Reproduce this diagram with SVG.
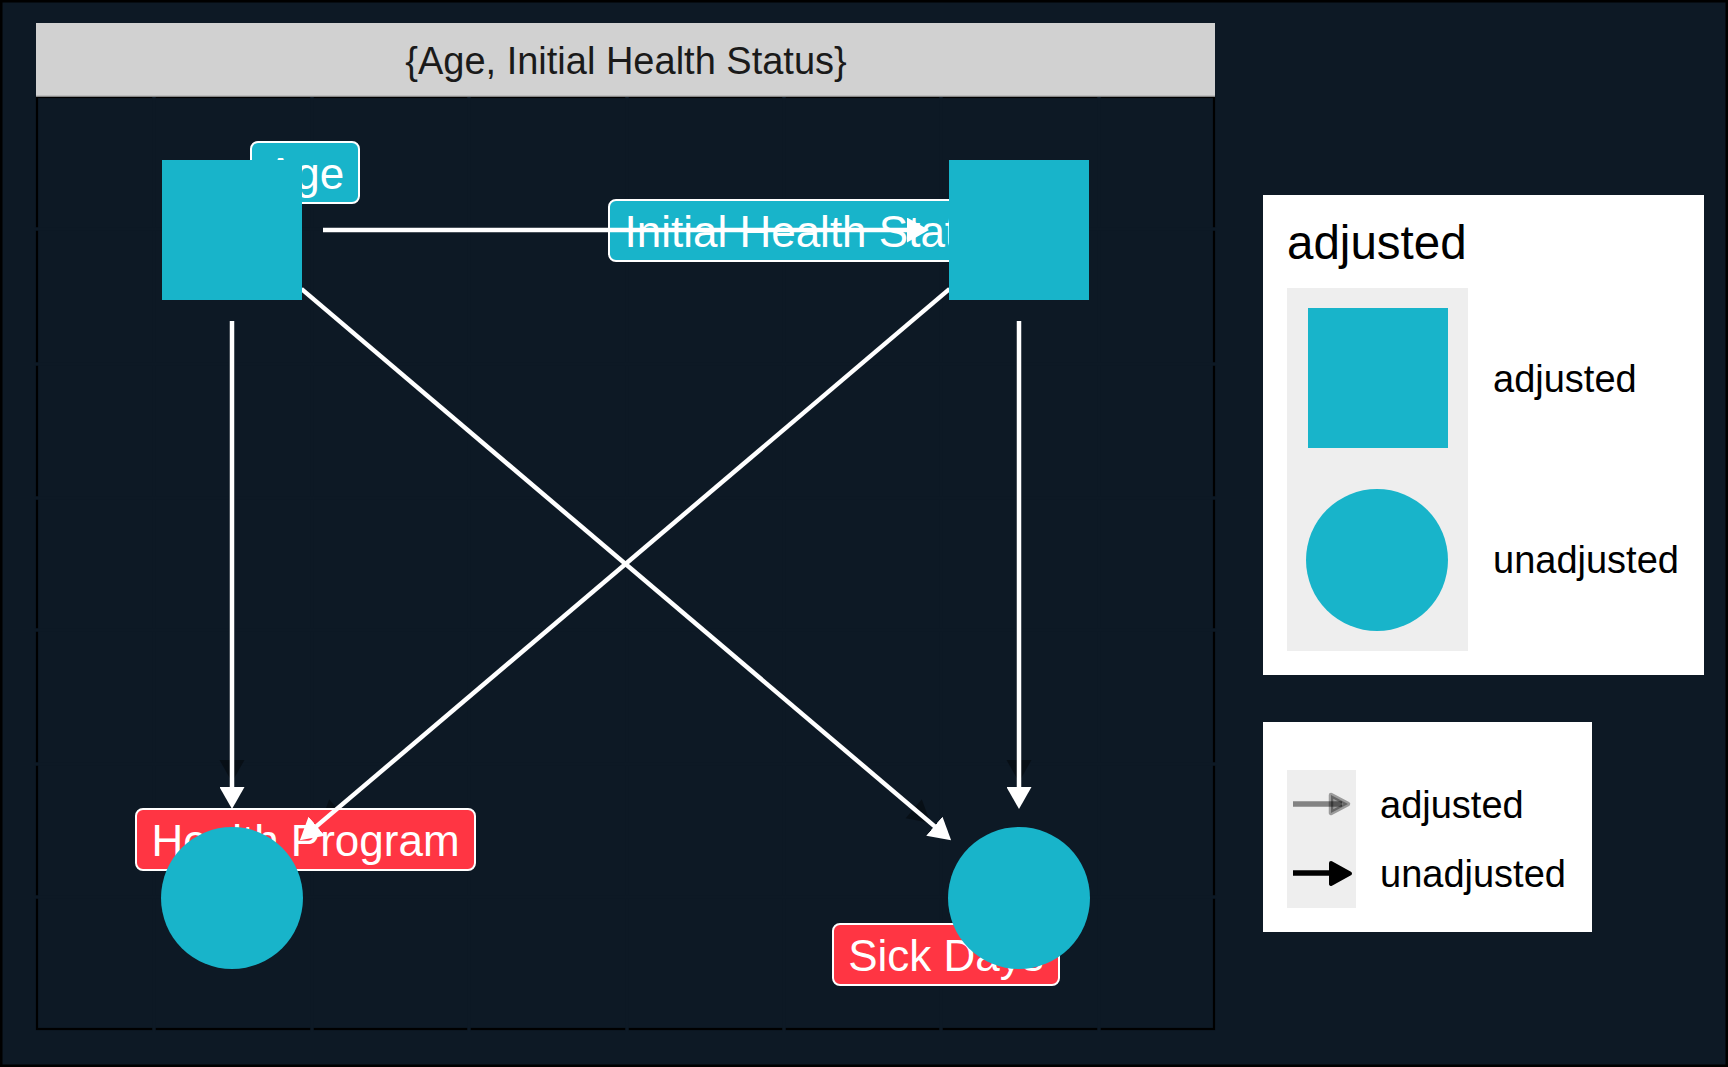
<svg xmlns="http://www.w3.org/2000/svg" width="1728" height="1067" viewBox="0 0 1728 1067">
<style>
text{font-family:"Liberation Sans",Arial,sans-serif}
.lbl{font-size:44px;fill:#ffffff;text-anchor:middle}
.lrect{stroke:#ffffff;stroke-width:2}
.cy{fill:#18b4ca}
.rd{fill:#ff3543}
.edge{stroke:#ffffff;stroke-width:4.5;fill:none;marker-end:url(#ah)}
.ghost{fill:#000000;opacity:0.4}
.grid{stroke:#0d1925;stroke-width:3.5}
.leg{font-size:38px;fill:#000000}
</style>
<defs>
<marker id="ah" viewBox="0 0 22 25" refX="12" refY="12.5" markerWidth="22" markerHeight="25" markerUnits="userSpaceOnUse" orient="auto">
<path d="M0,0 L22,12.5 L0,25 z" fill="#ffffff"/>
</marker>
</defs>
<rect x="1.25" y="1.25" width="1725.5" height="1064.5" fill="#0d1925" stroke="#000000" stroke-width="2.5"/>
<g id="panel">
<rect x="37" y="97" width="1177" height="932" fill="none" stroke="#000000" stroke-width="2.2"/>
<g id="grid">
<line class="grid" x1="154" y1="97" x2="154" y2="1032"/>
<line class="grid" x1="312" y1="97" x2="312" y2="1032"/>
<line class="grid" x1="469" y1="97" x2="469" y2="1032"/>
<line class="grid" x1="627" y1="97" x2="627" y2="1032"/>
<line class="grid" x1="784" y1="97" x2="784" y2="1032"/>
<line class="grid" x1="941" y1="97" x2="941" y2="1032"/>
<line class="grid" x1="1099" y1="97" x2="1099" y2="1032"/>
<line class="grid" x1="34" y1="229" x2="1217" y2="229"/>
<line class="grid" x1="34" y1="364" x2="1217" y2="364"/>
<line class="grid" x1="34" y1="498" x2="1217" y2="498"/>
<line class="grid" x1="34" y1="630" x2="1217" y2="630"/>
<line class="grid" x1="34" y1="764" x2="1217" y2="764"/>
<line class="grid" x1="34" y1="897" x2="1217" y2="897"/>
</g>
<rect x="36" y="23" width="1179" height="73" fill="#d1d1d1"/>
<line x1="36" y1="96" x2="1215" y2="96" stroke="#b4b4b4" stroke-width="1.5"/>
<text x="626" y="74" style="font-size:38px;fill:#1a1a1a;text-anchor:middle">{Age, Initial Health Status}</text>
</g>
<g id="ghosts">
<polygon class="ghost" points="232,782 219.5,760 244.5,760"/>
<polygon class="ghost" points="1019,782 1006.5,760 1031.5,760"/>
<polygon class="ghost" points="930.5,822.9 905.6,818.2 921.8,799.2"/>
<polygon class="ghost" points="320.5,822.9 345.4,818.2 329.2,799.2"/>
<polygon class="ghost" points="902,230 880,217.5 880,242.5"/>
</g>
<g id="labels">
<g id="label-age"><rect class="lrect cy" x="251" y="142" width="108" height="61" rx="7"/><text class="lbl" x="305" y="188.5">Age</text></g>
<g id="label-ihs"><rect class="lrect cy" x="609" y="200" width="410" height="61" rx="7"/><text class="lbl" x="814" y="247">Initial Health Status</text></g>
<g id="label-hp"><rect class="lrect rd" x="136" y="809" width="339" height="61" rx="7"/><text class="lbl" x="305.5" y="855.5">Health Program</text></g>
<g id="label-sd"><rect class="lrect rd" x="833" y="924" width="226" height="61" rx="7"/><text class="lbl" x="946" y="970.5">Sick Days</text></g>
</g>
<g id="connectors">
<line class="edge" x1="323" y1="230" x2="919" y2="230"/>
<line class="edge" x1="232" y1="321" x2="232" y2="799"/>
<line class="edge" x1="301.4" y1="288.9" x2="943.5" y2="833.9"/>
<line class="edge" x1="949.6" y1="288.9" x2="307.5" y2="833.9"/>
<line class="edge" x1="1019" y1="321" x2="1019" y2="799"/>
</g>
<g id="node-age"><rect class="cy" x="162" y="160" width="140" height="140"/></g>
<g id="node-ihs"><rect class="cy" x="949" y="160" width="140" height="140"/></g>
<g id="node-hp"><circle class="cy" cx="232" cy="898" r="71"/></g>
<g id="node-sd"><circle class="cy" cx="1019" cy="898" r="71"/></g>
<g id="legend-shape">
<rect x="1263" y="195" width="441" height="480" fill="#ffffff"/>
<text x="1287" y="259" style="font-size:47.5px;fill:#000000">adjusted</text>
<rect x="1287" y="288" width="181" height="363" fill="#eeeeee"/>
<rect class="cy" x="1308" y="308" width="140" height="140"/>
<circle class="cy" cx="1377" cy="560" r="71"/>
<text class="leg" x="1493" y="392">adjusted</text>
<text class="leg" x="1493" y="573">unadjusted</text>
</g>
<g id="legend-arrow">
<rect x="1263" y="722" width="329" height="210" fill="#ffffff"/>
<rect x="1287" y="770" width="69" height="138" fill="#eeeeee"/>
<line x1="1293" y1="804" x2="1342" y2="804" stroke="#000000" stroke-opacity="0.45" stroke-width="5.5"/>
<polygon points="1331,795 1348,804 1331,813" fill="#000000" fill-opacity="0.35" stroke="#000000" stroke-opacity="0.35" stroke-width="4.5" stroke-linejoin="round"/>
<line x1="1293" y1="873" x2="1335" y2="873" stroke="#000000" stroke-width="5.5"/>
<polygon points="1331,863 1350,873.5 1331,884" fill="#000000" stroke="#000000" stroke-width="4" stroke-linejoin="round"/>
<text class="leg" x="1380" y="818">adjusted</text>
<text class="leg" x="1380" y="887">unadjusted</text>
</g>
</svg>
